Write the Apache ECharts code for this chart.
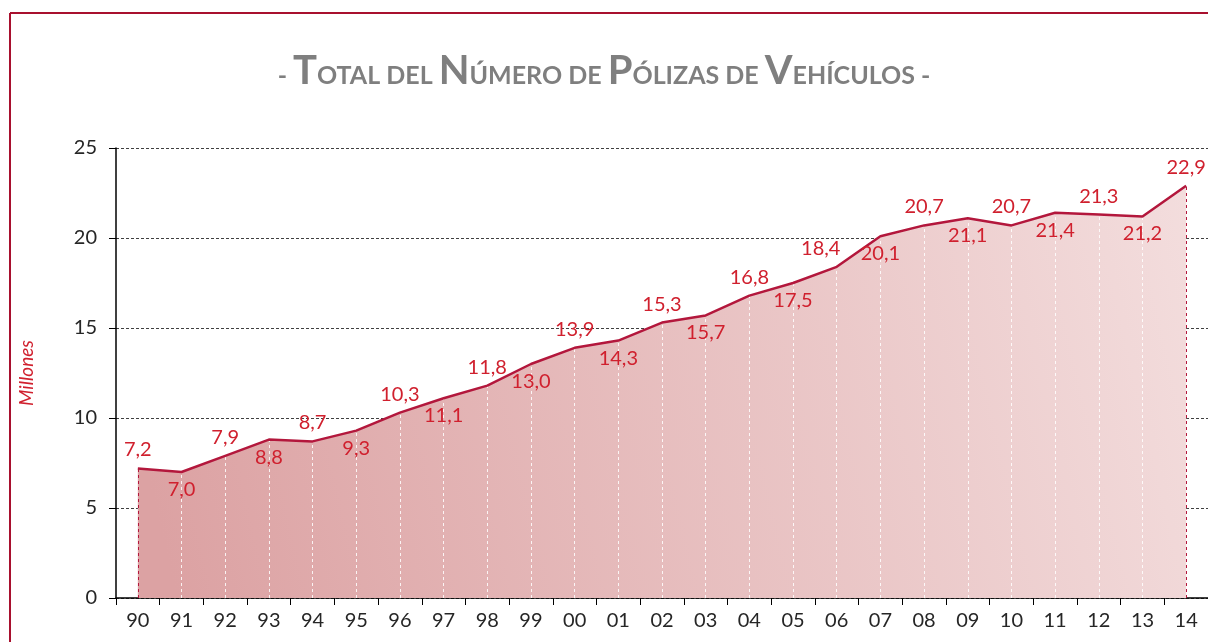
<!DOCTYPE html>
<html>
<head>
<meta charset="utf-8">
<script src="https://cdn.jsdelivr.net/npm/echarts@6/dist/echarts.min.js"></script>
<style>
  html, body { margin: 0; padding: 0; background: #fff; }
  #chart { width: 1208px; height: 642px; }
</style>
</head>
<body>
<div id="chart"></div>
<script>
const years = ["90","91","92","93","94","95","96","97","98","99","00","01","02","03","04","05","06","07","08","09","10","11","12","13","14"];
const polizas = [7.2, 7.0, 7.9, 8.8, 8.7, 9.3, 10.3, 11.1, 11.8, 13.0, 13.9, 14.3, 15.3, 15.7, 16.8, 17.5, 18.4, 20.1, 20.7, 21.1, 20.7, 21.4, 21.3, 21.2, 22.9];
const yTicks = [0, 5, 10, 15, 20, 25];

const red = "#b3173c";
const labelRed = "#d0202e";
const font = "Lato, 'Open Sans', sans-serif";

// labels alternan arriba / abajo
const seriesData = polizas.map((v, i) => ({
  value: v,
  label: i % 2 === 0
    ? { position: "top", distance: 8, offset: i === 16 ? [-16, 0] : [0, 0] }
    : { position: "bottom", distance: 7 }
}));

// lineas verticales punteadas hasta el eje
const dropLines = polizas.map((v, i) => [
  { coord: [i, 0], lineStyle: { color: (i === 0 || i === polizas.length - 1) ? red : "rgba(255,255,255,0.85)" } },
  { coord: [i, v] }
]);

const option = {
  animation: false,
  title: {
    left: "center",
    top: 46,
    text: "{s|- }{b|T}{s|OTAL DEL }{b|N}{s|ÚMERO DE }{b|P}{s|ÓLIZAS DE }{b|V}{s|EHÍCULOS -}",
    textStyle: {
      rich: {
        b: { fontFamily: font, fontSize: 40, fontWeight: "bold", color: "#7f7f7f" },
        s: { fontFamily: font, fontSize: 25, fontWeight: "bold", color: "#7f7f7f", padding: [10, 0, 0, 0] }
      }
    }
  },
  graphic: [
    { type: "line", shape: { x1: 10, y1: 13, x2: 1208, y2: 13 }, style: { stroke: "#a8102e", lineWidth: 2 } },
    { type: "line", shape: { x1: 10, y1: 13, x2: 10, y2: 642 }, style: { stroke: "#a8102e", lineWidth: 2 } }
  ],
  grid: { left: 116, right: 0, top: 148, bottom: 44 },
  xAxis: {
    type: "category",
    data: years,
    boundaryGap: true,
    axisLine: { lineStyle: { color: "#000", width: 1.5 } },
    axisTick: { show: true, length: 7, lineStyle: { color: "#000" } },
    axisLabel: { color: "#262626", fontSize: 20, fontFamily: font, margin: 13 }
  },
  yAxis: {
    type: "value",
    min: 0,
    max: yTicks[yTicks.length - 1],
    interval: 5,
    name: "Millones",
    nameLocation: "middle",
    nameGap: 80,
    nameTextStyle: { color: labelRed, fontStyle: "italic", fontSize: 19, fontFamily: font },
    axisLine: { show: true, lineStyle: { color: "#000", width: 1.5 } },
    axisTick: { show: true, length: 7, lineStyle: { color: "#000" } },
    axisLabel: { color: "#262626", fontSize: 20, fontFamily: font, margin: 19 },
    splitLine: { lineStyle: { color: "#404040", type: [3, 2], width: 1 } }
  },
  series: [
    {
      // relleno + lineas de caida
      type: "line",
      data: polizas,
      symbol: "none",
      lineStyle: { width: 0 },
      areaStyle: {
        opacity: 1,
        color: {
          type: "linear", x: 0, y: 0.6, x2: 1, y2: 0,
          colorStops: [
            { offset: 0, color: "#dca2a3" },
            { offset: 1, color: "#f3dddd" }
          ]
        }
      },
      markLine: {
        silent: true,
        z: 2,
        symbol: "none",
        label: { show: false },
        lineStyle: { type: [3, 3], width: 1 },
        data: dropLines
      },
      z: 1
    },
    {
      type: "line",
      data: seriesData,
      symbol: "circle",
      symbolSize: 1,
      showSymbol: true,
      itemStyle: { color: "rgba(0,0,0,0)" },
      lineStyle: { color: red, width: 2.5 },
      label: {
        show: true,
        color: labelRed,
        fontSize: 20,
        fontFamily: font,
        formatter: p => p.value.toFixed(1).replace(".", ",")
      },
      z: 10
    }
  ]
};

const chart = echarts.init(document.getElementById("chart"));
chart.setOption(option);
</script>
</body>
</html>
